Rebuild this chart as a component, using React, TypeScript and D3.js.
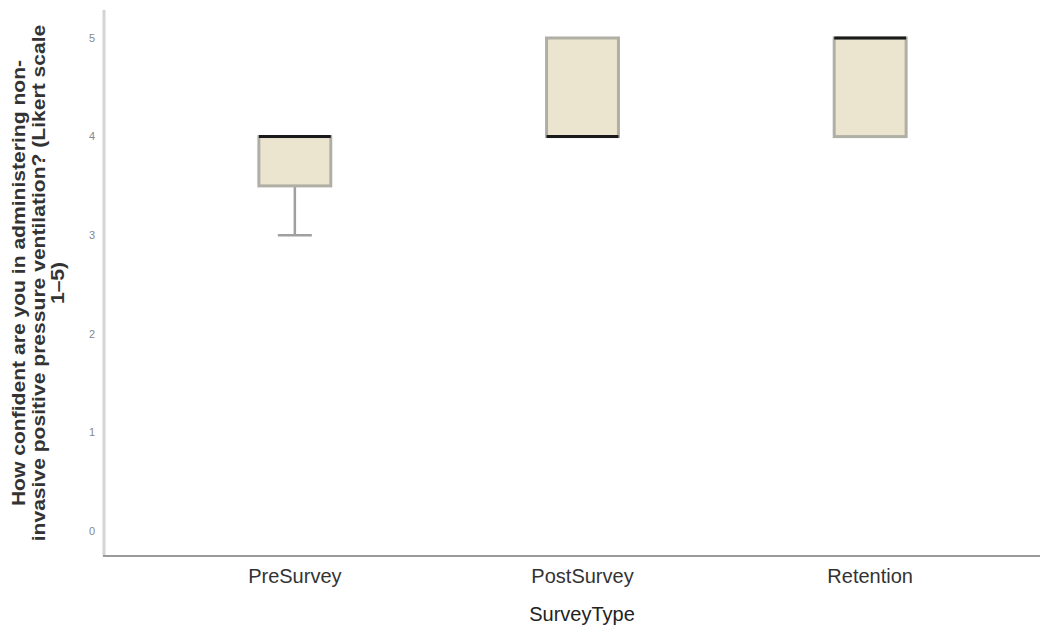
import React from "react";
import * as d3 from "d3";

const categories = ["PreSurvey", "PostSurvey", "Retention"];
const whiskerLow = [3, 4, 4];
const q1 = [3.5, 4, 4];
const median = [4, 4, 5];
const q3 = [4, 5, 5];
const whiskerHigh = [4, 5, 5];
const yTicks = [0, 1, 2, 3, 4, 5];
const yTitleLines = [
  "How confident are you in administering non-",
  "invasive positive pressure ventilation? (Likert scale",
  "1–5)",
];

const FONT = "Liberation Sans, Arial, sans-serif";

export default function App() {
  const W = 1048, H = 628;
  const x = d3.scaleBand<string>().domain(categories).range([151, 1014]).paddingInner(0.75).paddingOuter(0.375);
  const y = d3.scaleLinear().domain([0, 5]).range([531, 38]);
  const bw = x.bandwidth();
  return (
    <svg width={W} height={H} style={{ position: "absolute", left: 0, top: 0, background: "#fff" }}>
      <line x1={104} x2={104} y1={10} y2={556} stroke="#d4d4d4" strokeWidth={3} />
      <line x1={103} x2={1040} y1={556} y2={556} stroke="#9a9a9a" strokeWidth={2} />
      {yTicks.map((t) => (
        <text key={t} x={92} y={y(t)} dy="0.35em" textAnchor="middle" fontSize={11} fill="#888" fontFamily={FONT}>
          {t}
        </text>
      ))}
      {categories.map((c) => (
        <text key={c} x={(x(c) as number) + bw / 2} y={583} textAnchor="middle" fontSize={20} fill="#333" fontFamily={FONT}>
          {c}
        </text>
      ))}
      <text x={582} y={621} textAnchor="middle" fontSize={20} fill="#222" fontFamily={FONT}>
        SurveyType
      </text>
      <g transform="translate(0,283) rotate(-90) scale(1.14,1)">
        {yTitleLines.map((l, i) => (
          <text key={i} x={0} y={19 + i * 19.5} dy="0.35em" textAnchor="middle" fontSize={18.5} fontWeight="bold" fill="#333" fontFamily={FONT}>
            {l}
          </text>
        ))}
      </g>
      {categories.map((c, i) => {
        const x0 = x(c) as number;
        const cx = x0 + bw / 2;
        return (
          <g key={c}>
            {whiskerLow[i] < q1[i] && (
              <>
                <line x1={cx} x2={cx} y1={y(q1[i])} y2={y(whiskerLow[i])} stroke="#a0a0a0" strokeWidth={2.5} />
                <line x1={cx - 17} x2={cx + 17} y1={y(whiskerLow[i])} y2={y(whiskerLow[i])} stroke="#a0a0a0" strokeWidth={2.5} />
              </>
            )}
            {whiskerHigh[i] > q3[i] && (
              <>
                <line x1={cx} x2={cx} y1={y(q3[i])} y2={y(whiskerHigh[i])} stroke="#a0a0a0" strokeWidth={2.5} />
                <line x1={cx - 17} x2={cx + 17} y1={y(whiskerHigh[i])} y2={y(whiskerHigh[i])} stroke="#a0a0a0" strokeWidth={2.5} />
              </>
            )}
            <rect x={x0} y={y(q3[i])} width={bw} height={y(q1[i]) - y(q3[i])} fill="#ebe4cf" stroke="#b0afa6" strokeWidth={3} />
            <line x1={x0} x2={x0 + bw} y1={y(median[i])} y2={y(median[i])} stroke="#1a1a1a" strokeWidth={3} />
          </g>
        );
      })}
    </svg>
  );
}
